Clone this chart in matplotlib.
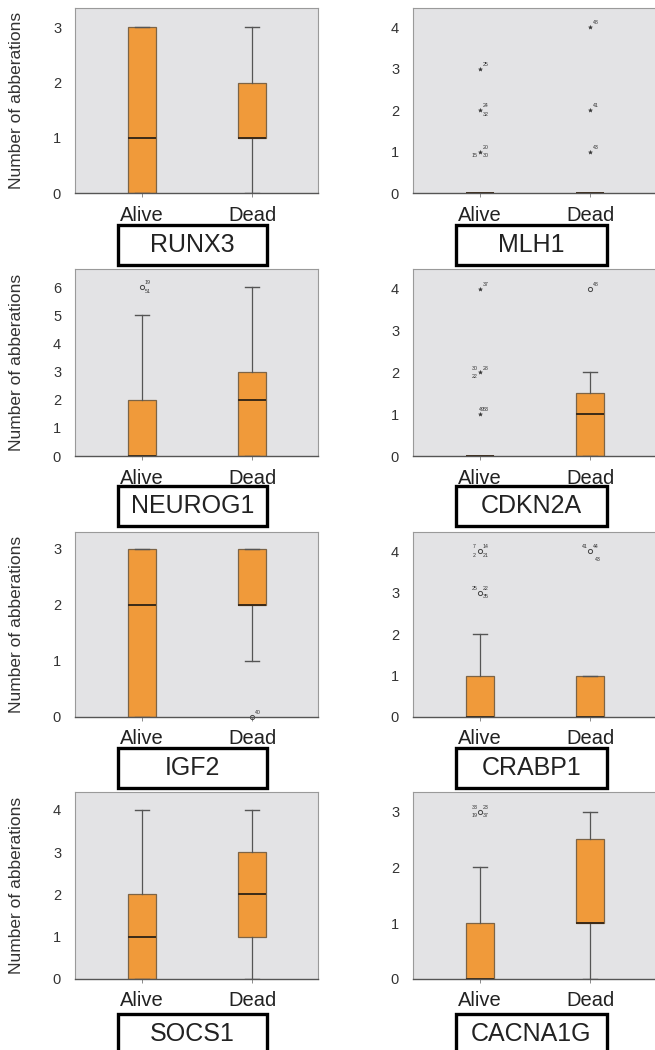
import matplotlib
matplotlib.use("Agg")
import matplotlib.pyplot as plt
from matplotlib.patches import Rectangle

plt.rcParams["font.family"] = ["Liberation Sans", "DejaVu Sans"]

GROUPS = ["Alive", "Dead"]
GENES = ["RUNX3", "MLH1", "NEUROG1", "CDKN2A", "IGF2", "CRABP1", "SOCS1", "CACNA1G"]

# box stats per group: (whisker low, q1, median, q3, whisker high)
RUNX3 = [(0, 0, 1, 3, 3), (0, 1, 1, 2, 3)]
MLH1 = [(0, 0, 0, 0, 0), (0, 0, 0, 0, 0)]
NEUROG1 = [(0, 0, 0, 2, 5), (0, 0, 2, 3, 6)]
CDKN2A = [(0, 0, 0, 0, 0), (0, 0, 1, 1.5, 2)]
IGF2 = [(0, 0, 2, 3, 3), (1, 2, 2, 3, 3)]
CRABP1 = [(0, 0, 0, 1, 2), (0, 0, 0, 1, 1)]
SOCS1 = [(0, 0, 1, 2, 4), (0, 1, 2, 3, 4)]
CACNA1G = [(0, 0, 0, 1, 2), (0, 1, 1, 2.5, 3)]
BOX_STATS = [RUNX3, MLH1, NEUROG1, CDKN2A, IGF2, CRABP1, SOCS1, CACNA1G]

# outliers: (gene, group index, value, marker kind, [(case label, position)])
OUTLIERS = [
    ("MLH1", 0, 3, "*", [("25", "ur")]),
    ("MLH1", 0, 2, "*", [("24", "ur"), ("32", "lr")]),
    ("MLH1", 0, 1, "*", [("20", "ur"), ("15", "ll"), ("30", "lr")]),
    ("MLH1", 1, 4, "*", [("48", "ur")]),
    ("MLH1", 1, 2, "*", [("41", "ur")]),
    ("MLH1", 1, 1, "*", [("43", "ur")]),
    ("NEUROG1", 0, 6, "o", [("19", "ur"), ("51", "lr")]),
    ("CDKN2A", 0, 4, "*", [("37", "ur")]),
    ("CDKN2A", 0, 2, "*", [("30", "ul"), ("28", "ur"), ("22", "ll")]),
    ("CDKN2A", 0, 1, "*", [("49", "u"), ("53", "ur")]),
    ("CDKN2A", 1, 4, "o", [("48", "ur")]),
    ("IGF2", 1, 0, "o", [("40", "ur")]),
    ("CRABP1", 0, 4, "o", [("7", "ul"), ("14", "ur"), ("2", "ll"), ("21", "lr")]),
    ("CRABP1", 0, 3, "o", [("25", "ul"), ("22", "ur"), ("35", "lr")]),
    ("CRABP1", 1, 4, "o", [("41", "ul"), ("44", "ur"), ("43", "lr2")]),
    ("CACNA1G", 0, 3, "o", [("33", "ul"), ("23", "ur"), ("19", "ll"), ("37", "lr")]),
]

Y_TOP = [3.35, 4.46, 6.64, 4.47, 3.3, 4.46, 4.42, 3.35]

LABEL_OFFSETS = {
    "ur": (4, 3), "ul": (-4, 3), "lr": (4, -3), "ll": (-4, -3),
    "u": (1, 3), "lr2": (6, -6),
}

W, H = 655, 1050
ROWS_PX = [(8, 193), (269, 456), (532, 717), (792, 979)]
COLS_PX = [(75, 318), (413, 656)]
GENE_BOX_Y = [225, 486, 748, 1014]
GENE_BOX_X = [(118, 267), (456, 607)]

BOX_FACE = "#F09A3A"
BOX_EDGE = "#7d6446"
AX_FACE = "#e3e3e5"

fig = plt.figure(figsize=(W / 100, H / 100), dpi=100)

for i, gene in enumerate(GENES):
    row, col = divmod(i, 2)
    x0, x1 = COLS_PX[col]
    top, bot = ROWS_PX[row]
    ax = fig.add_axes([x0 / W, 1 - bot / H, (x1 - x0) / W, (bot - top) / H])
    ax.set_facecolor(AX_FACE)

    stats = []
    for g, (lo, q1, med, q3, hi) in zip(GROUPS, BOX_STATS[i]):
        stats.append(dict(label=g, whislo=lo, q1=q1, med=med, q3=q3, whishi=hi, fliers=[]))
    ax.bxp(stats, positions=[1, 2], widths=0.25, patch_artist=True, showfliers=False,
           boxprops=dict(facecolor=BOX_FACE, edgecolor=BOX_EDGE, linewidth=0.9),
           medianprops=dict(color="#3b2a18", linewidth=1.4),
           whiskerprops=dict(color="#555555", linewidth=0.9),
           capprops=dict(color="#555555", linewidth=1.0),
           capwidths=0.13)

    for g_name, gi, val, kind, labels in OUTLIERS:
        if g_name != gene:
            continue
        if kind == "o":
            ax.plot(gi + 1, val, "o", ms=3.0, mfc="none", mec="#444444", mew=0.7,
                    clip_on=False)
        else:
            ax.plot(gi + 1, val, "*", ms=3.0, color="#333333", mew=0.3, clip_on=False)
        for txt, pos in labels:
            dx, dy = LABEL_OFFSETS[pos]
            ax.annotate(txt, (gi + 1, val), xytext=(dx, dy), textcoords="offset points",
                        fontsize=3.8, color="#333333", ha="center", va="center")

    ax.set_xlim(0.39, 2.6)
    ax.set_ylim(0, Y_TOP[i])
    ax.set_yticks(range(0, int(Y_TOP[i]) + 1))
    ax.set_xticks([1, 2])
    ax.set_xticklabels(GROUPS, fontsize=14.5, color="#222222")
    ax.tick_params(axis="x", length=3, width=0.6, color="#777777", pad=6)
    ax.tick_params(axis="y", length=0, pad=10, labelsize=10.5, labelcolor="#333333")
    for side in ["top", "left", "right"]:
        ax.spines[side].set_color("#9a9a9a")
        ax.spines[side].set_linewidth(0.8)
    ax.spines["bottom"].set_color("#555555")
    ax.spines["bottom"].set_linewidth(1.0)

    if col == 0:
        ax.set_ylabel("Number of abberations", fontsize=12.5, color="#333333")
        ax.yaxis.set_label_coords(-0.21, 0.5)

    # gene name box under the panel
    bx0, bx1 = GENE_BOX_X[col]
    by0 = GENE_BOX_Y[row]
    fig.add_artist(Rectangle((bx0 / W, 1 - (by0 + 40) / H), (bx1 - bx0) / W, 40 / H,
                             transform=fig.transFigure, fill=False, ec="black",
                             lw=2.4, clip_on=False))
    fig.text((bx0 + bx1) / 2 / W, 1 - (by0 + 20) / H, gene, fontsize=18,
             ha="center", va="center", color="#222222")

fig.savefig("out.png", dpi=100)
